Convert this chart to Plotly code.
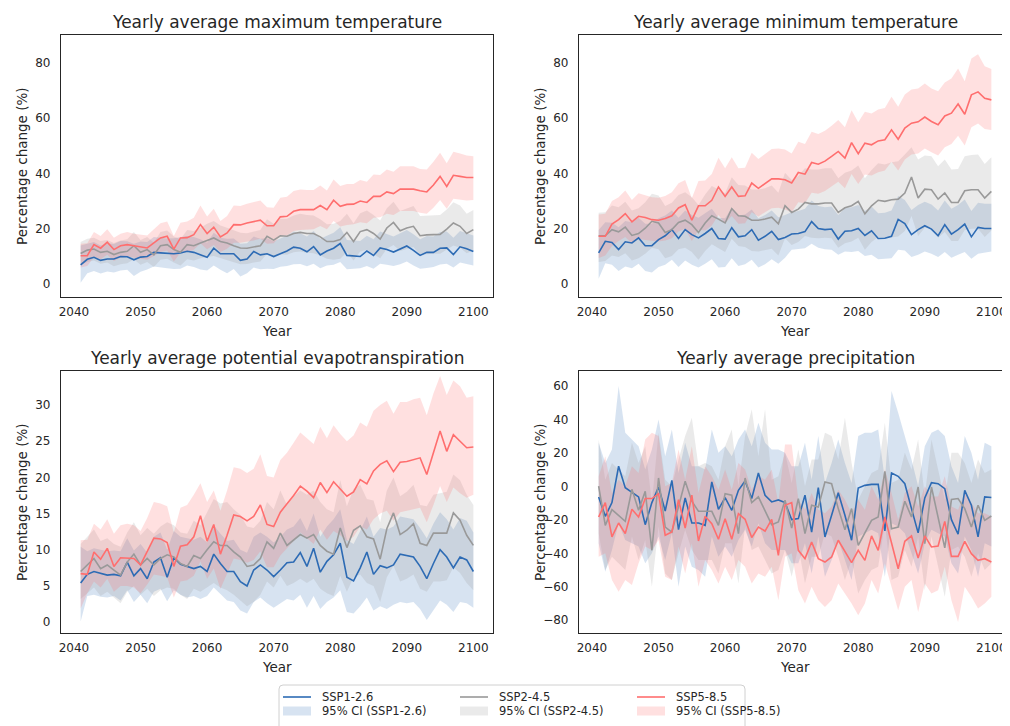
import plotly.graph_objects as go

# ---------------- data ----------------
years = list(range(2041, 2101))
x_tick_vals = [2040, 2050, 2060, 2070, 2080, 2090, 2100]
scenarios = ["SSP1-2.6", "SSP2-4.5", "SSP5-8.5"]
panel_titles = [
    "Yearly average maximum temperature",
    "Yearly average minimum temperature",
    "Yearly average potential evapotranspiration",
    "Yearly average precipitation",
]
y_tick_vals = [
    [0, 20, 40, 60, 80],
    [0, 20, 40, 60, 80],
    [0, 5, 10, 15, 20, 25, 30],
    [-80, -60, -40, -20, 0, 20, 40, 60],
]

# --- Yearly average maximum temperature ---
b1 = [7.0, 9.0, 9.7, 8.6, 9.1, 9.1, 10.0, 9.9, 8.8, 9.8,
      10.0, 11.5, 11.3, 11.1, 11.0, 11.3, 11.9, 11.5, 10.6, 9.7,
      13.0, 11.0, 11.0, 11.0, 8.6, 9.1, 11.8, 10.6, 11.0, 10.0,
      11.0, 12.0, 13.4, 13.0, 11.7, 13.6, 10.6, 12.0, 13.0, 14.7,
      10.4, 10.2, 10.0, 12.0, 10.4, 13.1, 12.5, 11.6, 12.7, 13.8,
      12.2, 10.4, 11.5, 11.5, 13.0, 13.1, 10.7, 13.5, 12.8, 11.8]
b1_lo = [0.5, 4.0, 4.8, 3.9, 4.6, 4.2, 5.0, 5.2, 3.0, 4.5,
         5.3, 6.4, 6.1, 5.8, 5.5, 5.6, 6.8, 6.2, 5.3, 5.0,
         6.8, 5.2, 4.0, 5.5, 2.8, 4.0, 6.0, 5.4, 5.6, 5.5,
         6.3, 6.6, 7.2, 7.3, 6.5, 7.4, 5.8, 6.8, 7.0, 8.0,
         5.4, 5.6, 5.8, 6.6, 5.6, 7.4, 7.0, 6.6, 7.2, 8.2,
         6.8, 5.6, 5.9, 6.2, 7.1, 7.4, 6.0, 7.8, 7.2, 6.8]
b1_hi = [14.0, 14.6, 15.2, 14.0, 14.8, 14.5, 15.6, 15.5, 14.6, 15.4,
         15.2, 17.0, 16.8, 16.5, 16.6, 17.1, 17.4, 17.0, 16.2, 15.0,
         18.6, 16.8, 16.4, 16.5, 14.6, 14.8, 17.2, 16.4, 16.6, 15.5,
         16.6, 17.5, 19.0, 18.4, 17.2, 19.2, 16.4, 17.5, 18.6, 20.6,
         16.0, 15.8, 15.6, 17.5, 16.2, 19.0, 18.2, 17.2, 18.4, 19.6,
         18.0, 16.2, 17.4, 17.2, 18.8, 19.0, 16.8, 19.2, 18.4, 17.6]
g1 = [11.1, 12.3, 12.7, 11.5, 11.9, 10.7, 11.5, 11.9, 13.9, 11.5,
      12.5, 10.6, 13.9, 14.3, 12.5, 11.5, 14.3, 13.9, 14.9, 15.9,
      16.7, 15.4, 14.9, 13.9, 13.1, 13.0, 13.5, 13.9, 17.3, 15.9,
      17.5, 17.3, 18.3, 18.7, 18.3, 18.3, 17.1, 15.4, 15.4, 16.1,
      18.7, 15.4, 19.0, 19.7, 18.3, 16.3, 20.3, 22.3, 19.3, 20.3,
      20.9, 17.5, 17.8, 17.9, 18.0, 19.9, 22.1, 20.9, 18.3, 19.7]
g1_lo = [7.0, 8.0, 8.6, 7.4, 7.8, 6.5, 7.2, 7.6, 9.0, 7.0,
         8.0, 6.2, 8.8, 9.2, 7.8, 6.8, 9.0, 8.6, 9.4, 9.8,
         10.2, 9.5, 8.6, 8.0, 7.2, 7.3, 7.8, 8.2, 11.0, 9.6,
         10.8, 10.6, 11.5, 11.8, 11.4, 11.2, 10.4, 9.2, 8.8, 9.2,
         11.6, 8.6, 11.8, 12.4, 11.0, 9.4, 12.8, 14.2, 12.0, 12.6,
         13.4, 10.6, 10.8, 11.0, 11.0, 12.4, 14.0, 13.2, 11.2, 12.2]
g1_hi = [15.2, 16.4, 16.8, 15.6, 16.0, 14.9, 15.8, 16.2, 18.8, 16.0,
         17.0, 15.0, 18.8, 19.4, 17.2, 16.2, 19.6, 19.2, 20.4, 21.8,
         22.8, 21.2, 20.4, 19.6, 18.6, 18.4, 19.0, 19.6, 23.4, 21.8,
         23.6, 23.6, 24.8, 25.4, 25.0, 24.8, 23.4, 21.6, 21.8, 22.8,
         25.4, 22.0, 25.6, 26.6, 25.0, 23.0, 27.4, 29.8, 26.4, 27.4,
         28.2, 24.6, 24.8, 24.8, 25.0, 27.0, 29.6, 28.4, 25.4, 26.8]
r1 = [10.3, 10.3, 14.3, 13.0, 15.2, 12.5, 13.9, 14.3, 13.9, 13.5,
      13.1, 14.9, 16.7, 17.3, 12.7, 16.7, 16.8, 17.9, 21.5, 18.3,
      20.6, 17.1, 18.5, 21.5, 21.4, 22.1, 22.6, 23.1, 21.1, 21.1,
      24.3, 24.5, 26.3, 26.9, 26.9, 26.9, 28.4, 26.9, 30.3, 28.1,
      28.8, 28.9, 30.0, 29.5, 31.7, 31.7, 33.3, 32.7, 34.3, 34.3,
      34.3, 33.7, 33.3, 35.8, 38.9, 35.3, 39.3, 38.9, 38.5, 38.5]
r1_lo = [6.0, 6.6, 9.8, 9.0, 10.6, 8.4, 9.6, 10.0, 9.6, 9.2,
         8.8, 10.2, 11.6, 12.2, 8.2, 11.4, 11.6, 12.4, 14.8, 12.6,
         14.2, 11.6, 12.8, 15.0, 15.0, 15.4, 15.8, 16.4, 14.6, 14.8,
         17.4, 17.6, 19.2, 19.6, 19.8, 19.8, 21.0, 19.8, 22.8, 20.8,
         21.4, 21.6, 22.4, 22.0, 24.0, 24.2, 25.4, 25.0, 26.4, 26.4,
         26.4, 25.8, 25.4, 27.6, 30.4, 27.2, 30.8, 30.6, 30.2, 30.4]
r1_hi = [14.6, 14.8, 18.8, 17.4, 19.8, 16.8, 18.2, 18.8, 18.2, 17.8,
         17.6, 19.8, 22.0, 22.6, 17.4, 22.2, 22.6, 24.0, 28.4, 24.4,
         27.2, 22.8, 24.6, 28.4, 28.2, 29.0, 29.6, 30.2, 27.8, 27.6,
         31.2, 31.6, 33.6, 34.2, 34.0, 34.0, 35.6, 33.8, 37.8, 35.4,
         36.2, 36.2, 37.6, 37.0, 39.6, 39.4, 41.4, 40.6, 42.6, 42.6,
         42.6, 41.6, 41.4, 44.2, 47.4, 43.6, 47.8, 47.2, 46.4, 46.2]

# --- Yearly average minimum temperature ---
b2 = [11.3, 15.5, 15.1, 12.5, 15.3, 14.9, 16.7, 13.9, 13.9, 16.1,
      17.5, 19.7, 16.5, 19.7, 17.9, 16.7, 18.3, 20.1, 16.5, 16.3,
      20.4, 17.1, 17.5, 19.7, 15.9, 17.3, 19.1, 16.1, 16.9, 18.1,
      18.3, 19.0, 22.6, 20.1, 19.7, 19.9, 16.3, 19.1, 19.3, 20.1,
      17.6, 19.3, 16.5, 16.6, 17.3, 23.4, 21.9, 17.9, 19.7, 21.1,
      19.9, 17.5, 21.5, 18.1, 19.7, 21.7, 17.1, 20.5, 20.1, 20.1]
b2_lo = [2.0, 7.6, 7.0, 4.8, 6.4, 5.8, 7.4, 4.8, 4.2, 6.2,
         7.0, 8.8, 6.2, 8.6, 7.0, 6.0, 7.4, 9.0, 6.0, 6.2,
         9.4, 6.6, 7.2, 8.8, 6.0, 7.2, 9.0, 7.4, 9.6, 12.4,
         12.8, 13.0, 14.6, 13.2, 12.6, 12.4, 10.6, 11.8, 11.6, 12.0,
         10.2, 10.6, 9.0, 9.2, 9.4, 12.4, 12.2, 9.8, 10.6, 11.8,
         11.0, 9.8, 11.6, 9.6, 10.6, 11.6, 9.2, 11.0, 11.4, 11.8]
b2_hi = [19.6, 22.4, 22.2, 20.6, 22.8, 22.4, 24.0, 21.8, 21.8, 23.8,
         24.8, 26.6, 24.0, 26.6, 25.0, 24.0, 25.6, 27.2, 24.0, 23.8,
         27.6, 24.8, 25.2, 27.0, 23.8, 25.0, 26.6, 24.2, 25.0, 26.0,
         26.4, 27.2, 30.2, 28.2, 27.8, 28.0, 25.0, 27.6, 27.8, 28.6,
         26.4, 28.0, 25.6, 25.8, 26.6, 31.8, 30.4, 26.8, 28.6, 29.8,
         28.8, 26.6, 30.2, 27.2, 28.6, 30.6, 26.4, 29.4, 29.0, 29.0]
g2 = [17.5, 17.5, 19.7, 18.9, 20.6, 17.6, 18.3, 20.2, 22.7, 22.1,
      18.7, 19.7, 22.3, 23.1, 21.5, 18.7, 22.1, 24.7, 23.5, 22.1,
      27.3, 24.7, 24.5, 23.1, 23.1, 23.5, 24.2, 21.8, 28.3, 25.9,
      27.1, 29.5, 29.0, 29.0, 29.3, 29.3, 25.9, 27.6, 28.3, 29.9,
      25.4, 28.3, 30.3, 29.9, 30.5, 30.7, 32.9, 38.7, 31.1, 34.3,
      34.1, 30.7, 32.9, 29.5, 29.5, 33.7, 34.1, 34.1, 31.1, 33.5]
g2_lo = [8.0, 8.4, 10.4, 9.8, 11.2, 8.6, 9.4, 11.0, 13.2, 12.6,
         9.4, 10.2, 12.6, 13.2, 11.6, 8.8, 12.0, 14.4, 13.0, 11.6,
         16.4, 13.8, 13.4, 12.0, 11.8, 12.2, 12.8, 10.4, 16.6, 14.2,
         15.2, 17.4, 16.8, 16.6, 16.8, 16.6, 13.2, 14.8, 15.4, 16.8,
         12.4, 15.2, 17.0, 16.6, 17.0, 17.2, 19.2, 24.6, 17.4, 20.4,
         20.0, 16.8, 18.8, 15.6, 15.6, 19.6, 20.0, 20.0, 17.0, 19.4]
g2_hi = [25.8, 26.0, 28.4, 27.8, 29.8, 26.6, 27.4, 29.6, 32.6, 32.0,
         28.2, 29.4, 32.2, 33.2, 31.4, 28.6, 32.4, 35.4, 34.2, 32.8,
         38.6, 35.8, 35.6, 34.2, 34.2, 34.6, 35.6, 33.0, 40.2, 37.6,
         39.0, 41.8, 41.4, 41.4, 41.8, 41.8, 38.2, 40.2, 41.0, 42.8,
         38.2, 41.2, 43.6, 43.2, 44.0, 44.4, 46.8, 49.4, 45.0, 46.4,
         46.2, 42.6, 45.0, 41.4, 41.6, 46.2, 46.6, 46.8, 43.4, 45.8]
r2 = [17.3, 17.3, 21.7, 23.3, 25.5, 22.5, 24.5, 24.1, 23.3, 23.1,
      23.7, 24.7, 27.5, 28.7, 23.1, 28.3, 28.3, 30.3, 35.1, 31.7,
      35.1, 31.7, 31.9, 36.5, 34.6, 36.3, 38.0, 38.0, 37.7, 36.5,
      40.3, 39.7, 43.9, 43.3, 44.4, 46.1, 47.9, 45.5, 51.1, 47.1,
      50.9, 50.3, 51.7, 52.1, 55.7, 52.3, 56.3, 58.1, 58.6, 60.3,
      58.7, 57.5, 60.7, 61.7, 65.0, 61.3, 68.3, 69.4, 67.1, 66.5]
r2_lo = [9.5, 10.4, 13.8, 15.6, 17.0, 14.8, 16.4, 16.0, 15.6, 15.4,
         15.8, 16.6, 19.0, 20.0, 15.6, 19.6, 19.4, 21.2, 25.0, 22.0,
         24.6, 21.8, 22.0, 26.0, 24.4, 26.0, 27.4, 27.6, 27.0, 26.0,
         29.6, 29.2, 33.0, 32.6, 33.6, 35.4, 37.0, 34.6, 39.8, 36.2,
         39.6, 39.2, 40.4, 41.0, 44.2, 41.0, 45.0, 46.8, 47.2, 49.0,
         47.6, 46.4, 49.4, 50.6, 53.6, 50.0, 56.6, 58.0, 56.0, 55.6]
r2_hi = [25.2, 25.4, 30.0, 31.4, 33.8, 30.4, 32.8, 32.2, 31.4, 31.2,
         31.8, 33.2, 36.4, 37.6, 31.0, 37.2, 37.4, 39.8, 45.6, 41.8,
         45.8, 41.8, 42.0, 47.4, 45.2, 47.0, 48.8, 49.0, 48.6, 47.2,
         51.4, 50.6, 55.0, 54.2, 55.4, 57.2, 59.2, 56.6, 62.8, 58.4,
         62.2, 61.6, 63.0, 63.6, 67.6, 64.0, 68.4, 70.2, 70.6, 72.4,
         70.6, 69.6, 72.8, 74.2, 77.8, 73.2, 81.4, 83.0, 78.6, 77.6]

# --- Yearly average potential evapotranspiration ---
b3 = [5.4, 6.6, 7.0, 6.7, 6.5, 6.6, 6.4, 8.3, 6.4, 7.4,
      6.0, 8.3, 8.9, 6.2, 8.9, 8.0, 7.7, 7.4, 7.7, 7.0,
      9.4, 8.1, 7.0, 7.0, 5.6, 5.0, 7.2, 7.9, 7.2, 6.3,
      7.2, 8.2, 8.3, 9.6, 7.7, 10.2, 6.9, 8.4, 9.3, 10.9,
      6.2, 5.7, 7.5, 9.7, 6.6, 7.8, 7.5, 7.9, 9.4, 9.2,
      9.0, 7.7, 6.0, 8.1, 10.0, 9.0, 7.5, 9.0, 8.6, 7.0]
b3_lo = [0.1, 3.6, 3.8, 3.5, 3.4, 3.6, 3.0, 4.4, 2.8, 3.8,
         2.6, 4.2, 4.6, 2.9, 4.4, 3.8, 3.4, 3.6, 3.2, 3.6,
         4.8, 3.9, 3.0, 2.8, 1.6, 1.2, 2.8, 3.4, 2.6, 2.0,
         2.6, 3.2, 3.0, 3.8, 2.0, 3.6, 1.8, 2.8, 3.4, 4.4,
         1.4, 1.2, 2.2, 3.4, 1.6, 2.2, 1.8, 2.4, 2.8, 2.6,
         2.8, 1.8, 0.3, 1.6, 3.0, 2.4, 1.4, 2.8, 2.6, 2.0]
b3_hi = [10.4, 9.8, 10.2, 10.0, 9.8, 9.9, 9.8, 11.6, 9.9, 10.8,
         9.6, 11.8, 12.4, 10.0, 12.6, 11.8, 11.6, 11.4, 11.8, 11.0,
         13.4, 12.2, 11.2, 11.4, 10.0, 9.6, 11.8, 12.4, 11.8, 11.0,
         11.8, 12.8, 13.2, 14.4, 12.6, 15.0, 11.8, 13.2, 14.2, 15.6,
         11.4, 10.8, 12.6, 14.6, 11.8, 13.0, 12.8, 13.2, 14.6, 14.4,
         14.2, 13.0, 11.6, 13.6, 15.2, 14.2, 12.8, 14.4, 14.0, 12.4]
g3 = [7.0, 7.9, 8.8, 7.4, 7.9, 7.2, 6.5, 8.3, 9.4, 7.9,
      8.8, 7.9, 8.8, 9.3, 9.0, 8.1, 7.7, 9.2, 8.8, 10.0,
      11.1, 10.6, 10.6, 9.7, 9.0, 7.7, 7.9, 8.8, 11.1, 10.2,
      12.3, 10.6, 11.4, 12.1, 11.6, 12.1, 10.6, 9.8, 9.4, 13.0,
      10.3, 12.7, 13.3, 11.8, 11.5, 8.7, 12.9, 15.1, 12.1, 12.7,
      13.6, 10.9, 10.6, 12.3, 12.3, 12.3, 15.1, 14.1, 12.0, 10.6]
g3_lo = [3.2, 4.0, 4.8, 3.6, 4.2, 3.4, 2.6, 4.2, 5.0, 3.8,
         4.6, 3.6, 4.4, 4.8, 4.6, 3.8, 3.2, 4.6, 4.2, 4.8,
         5.4, 4.8, 4.4, 3.8, 3.0, 2.2, 2.8, 3.8, 5.6, 4.8,
         6.4, 5.0, 5.4, 6.0, 5.4, 6.0, 4.6, 4.0, 3.6, 6.4,
         4.2, 6.2, 6.6, 5.4, 5.0, 2.8, 6.2, 7.8, 5.6, 6.0,
         6.6, 4.6, 4.2, 5.6, 5.6, 5.8, 7.6, 6.8, 5.4, 4.4]
g3_hi = [10.8, 11.8, 12.8, 11.2, 11.6, 10.8, 10.4, 12.4, 13.8, 12.0,
         13.0, 12.2, 13.2, 13.8, 13.4, 12.4, 12.2, 14.0, 13.4, 15.2,
         17.0, 16.4, 16.6, 15.6, 14.8, 13.2, 13.0, 14.0, 16.6, 15.6,
         18.2, 16.2, 17.4, 18.2, 17.6, 18.2, 16.6, 15.6, 15.2, 19.6,
         16.0, 18.4, 19.0, 17.0, 16.8, 13.8, 18.2, 20.0, 17.4, 18.0,
         19.0, 16.2, 16.0, 17.6, 17.8, 18.0, 20.4, 19.6, 17.6, 16.2]
r3 = [6.7, 6.6, 9.7, 8.7, 10.2, 7.7, 8.9, 8.9, 8.8, 7.9,
      9.7, 11.6, 11.5, 11.0, 7.7, 10.5, 10.7, 11.8, 14.7, 11.2,
      13.5, 9.4, 12.0, 14.8, 14.6, 14.0, 14.6, 16.2, 13.5, 13.2,
      15.2, 16.3, 17.5, 18.8, 18.1, 17.2, 19.3, 17.9, 19.4, 18.4,
      17.4, 18.0, 19.7, 19.1, 20.9, 21.8, 22.3, 20.8, 22.1, 22.2,
      22.5, 22.7, 20.4, 23.3, 26.4, 23.6, 25.9, 25.0, 24.1, 24.2]
r3_lo = [1.9, 4.0, 5.6, 4.8, 6.0, 4.2, 5.0, 5.0, 4.8, 4.0,
         5.2, 6.6, 6.4, 6.2, 3.4, 5.6, 5.8, 6.4, 8.4, 6.0,
         7.4, 4.6, 6.6, 8.8, 8.6, 8.2, 8.6, 9.8, 7.6, 7.6,
         9.2, 10.2, 11.2, 12.4, 11.6, 10.8, 12.8, 11.4, 12.6, 12.0,
         11.2, 11.8, 13.2, 12.8, 14.2, 15.0, 15.4, 14.0, 15.2, 15.4,
         15.6, 15.8, 13.8, 16.2, 18.8, 16.6, 18.6, 17.8, 17.2, 17.6]
r3_hi = [11.3, 11.4, 13.6, 12.8, 14.2, 12.2, 13.4, 13.6, 13.4, 12.6,
         14.4, 16.6, 16.4, 16.0, 12.4, 15.8, 16.2, 17.6, 19.2, 16.6,
         18.2, 15.4, 18.2, 21.4, 21.2, 20.6, 21.2, 23.2, 20.2, 20.0,
         22.4, 23.4, 24.8, 26.2, 25.4, 24.6, 27.0, 25.4, 27.2, 26.0,
         25.0, 25.8, 27.6, 27.0, 29.2, 30.0, 30.6, 28.8, 30.4, 30.4,
         30.8, 31.0, 28.6, 31.6, 34.0, 31.4, 33.4, 32.6, 31.0, 31.2]

# --- Yearly average precipitation ---
b4 = [-6.3, -17.9, -9.7, 12.0, -0.8, -3.4, -6.3, -22.9, -9.7, -0.4,
      -14.7, 3.6, -25.9, -6.9, -21.9, -21.9, -23.3, 2.6, -13.7, -6.7,
      -14.3, -2.4, 3.2, -7.3, 8.0, -5.3, -9.3, -8.1, -9.7, -19.9,
      -19.3, -5.3, -27.3, -0.8, -30.2, -17.3, -3.8, -17.3, -32.2, -1.0,
      0.6, 1.2, 1.2, -26.6, 8.0, 6.0, 1.6, -13.3, -27.8, -6.9,
      2.2, 1.6, -1.4, -19.9, -28.6, -2.4, -11.3, -30.2, -6.3, -6.7]
b4_lo = [-34, -51, -38, -22, -32, -34, -36, -46, -40, -30,
         -44, -28, -60, -36, -48, -50, -54, -30, -42, -36,
         -42, -32, -26, -36, -22, -34, -38, -38, -38, -46,
         -46, -34, -52, -30, -54, -44, -32, -44, -56, -30,
         -28, -26, -28, -54, -22, -24, -28, -40, -52, -34,
         -26, -28, -30, -46, -52, -30, -38, -54, -34, -36]
b4_hi = [26, 14, 22, 60, 32, 28, 24, 10, 22, 40,
         18, 34, 8, 26, 12, 12, 10, 34, 20, 24,
         18, 28, 34, 24, 38, 26, 22, 22, 20, 12,
         12, 26, 4, 30, 2, 14, 28, 14, 2, 30,
         32, 32, 34, 4, 57, 44, 30, 16, 0, 24,
         32, 34, 30, 12, 2, 30, 20, 4, 26, 24]
g4 = [0.2, -23.3, -13.9, -17.3, -20.9, -1.8, -14.3, -3.0, -38.2, 5.0,
      -24.3, -27.3, -11.3, 3.0, -8.9, -14.9, -14.9, -14.9, -23.3, -4.4,
      -5.3, -28.2, 5.0, -9.7, -6.3, -14.9, -22.9, -21.3, -8.3, -24.9,
      -7.3, -28.2, -11.3, -12.3, 2.6, 1.6, -13.3, -25.9, -13.3, -35.2,
      -27.3, -20.3, -18.3, 9.0, -25.3, -24.3, -8.9, -18.3, -0.4, -34.2,
      -0.4, -18.3, -36.8, -7.9, -7.3, -13.3, -24.3, -11.3, -20.3, -17.7]
g4_lo = [-28, -50, -42, -46, -50, -30, -44, -32, -60, -24,
         -52, -56, -40, -26, -38, -44, -44, -44, -52, -34,
         -34, -58, -24, -38, -36, -44, -52, -50, -38, -54,
         -36, -58, -42, -42, -28, -30, -42, -56, -44, -64,
         -56, -50, -48, -22, -56, -54, -38, -48, -30, -62,
         -30, -48, -66, -38, -36, -42, -54, -40, -50, -46]
g4_hi = [28, 4, 14, 10, 6, 26, 14, 24, -10, 32,
         4, 0, 16, 30, 41, 12, 14, 12, 4, 24,
         34, 0, 30, 46, 18, 46, 4, 6, 20, 2,
         22, 0, 16, 16, 32, 30, 16, 41, 14, -8,
         0, 8, 10, 38, 2, 4, 20, 10, 28, -6,
         28, 10, -8, 20, 20, 14, 2, 16, 8, 10]
r4 = [-18.3, -9.7, -30.2, -21.9, -28.2, -13.7, -18.3, -7.3, -7.3, -4.4,
      -29.2, -27.3, -7.9, -24.9, -5.3, -32.6, -17.9, -22.3, -31.6, -19.3,
      -31.6, -16.3, -19.7, -30.6, -24.3, -26.7, -19.7, -41.2, -11.3, -9.7,
      -38.2, -43.2, -33.2, -43.2, -45.2, -42.2, -32.2, -38.6, -45.6, -38.2,
      -44.2, -29.6, -38.2, -18.3, -33.2, -49.2, -32.8, -29.6, -42.8, -29.6,
      -36.2, -35.6, -20.9, -41.8, -41.8, -32.8, -40.2, -44.2, -43.2, -45.2]
r4_lo = [-42, -40, -56, -63, -56, -59, -46, -36, -38, -32,
         -54, -56, -36, -52, -34, -60, -44, -50, -58, -48,
         -56, -44, -48, -58, -52, -54, -48, -68, -42, -40,
         -62, -70, -60, -68, -72, -68, -58, -64, -70, -77,
         -70, -56, -64, -46, -60, -74, -60, -56, -75, -58,
         -64, -62, -48, -68, -81, -60, -66, -73, -70, -66]
r4_hi = [6, 18, -4, 4, 0, 12, 8, 28, 32, 30,
         0, 2, 22, 4, 24, -4, 12, 6, -2, 10,
         -2, 14, 10, -2, 6, 4, 10, -10, 25, 25,
         -8, -14, -4, -14, -16, -12, -2, -8, -16, -8,
         -14, 0, -8, 10, -4, -20, -4, 0, -12, 0,
         -6, -6, 6, -12, -14, -4, -10, -16, -16, -18]

panels = [
    [(b1, b1_lo, b1_hi), (g1, g1_lo, g1_hi), (r1, r1_lo, r1_hi)],
    [(b2, b2_lo, b2_hi), (g2, g2_lo, g2_hi), (r2, r2_lo, r2_hi)],
    [(b3, b3_lo, b3_hi), (g3, g3_lo, g3_hi), (r3, r3_lo, r3_hi)],
    [(b4, b4_lo, b4_hi), (g4, g4_lo, g4_hi), (r4, r4_lo, r4_hi)],
]
for p in panels:
    for trio in p:
        for arr in trio:
            assert len(arr) == len(years), len(arr)

# ---------------- styling ----------------
W, H = 1010, 726
OFF = 8  # the page places the figure 8 px in from the window's top-left corner
FONT = "DejaVu Sans"
INK = "#262626"
LINE_COL = ["#2d6bb4", "#999999", "#ff6e6e"]
FILL_COL = ["rgba(45,107,180,0.19)", "rgba(150,150,150,0.20)", "rgba(255,110,110,0.21)"]

# axes boxes in window pixels: (left, right, top, bottom)
BOX = [(61, 493, 35, 297), (579, 1011, 35, 297), (61, 493, 371, 633), (579, 1011, 371, 633)]
XR = [2038.05, 2102.95]
YR = [[-4.6, 89.9], [-4.6, 89.9], [-1.5, 34.7], [-87.6, 68.9]]


def fx(px):
    return (px - OFF) / W


def fy(py):
    return 1 - (py - OFF) / H


def fmt(v):
    return str(v).replace("-", "\u2212")


fig = go.Figure()
layout = dict(
    template="none",
    width=W, height=H,
    margin=dict(l=0, r=0, t=0, b=0, pad=0, autoexpand=False),
    paper_bgcolor="white", plot_bgcolor="white",
    showlegend=False,
    font=dict(family=FONT, color=INK),
)
annotations = []
shapes = []

for k in range(4):
    sfx = "" if k == 0 else str(k + 1)
    x0, x1, y0, y1 = BOX[k]
    cx = (x0 + x1) / 2
    for s in range(3):
        mid, lo, hi = panels[k][s]
        fig.add_trace(go.Scatter(
            x=years + years[::-1], y=hi + lo[::-1],
            fill="toself", fillcolor=FILL_COL[s], mode="lines",
            line=dict(width=0, color=FILL_COL[s]), hoverinfo="skip",
            name="95% CI (" + scenarios[s] + ")",
            xaxis="x" + sfx, yaxis="y" + sfx,
        ))
    for s in range(3):
        mid, lo, hi = panels[k][s]
        fig.add_trace(go.Scatter(
            x=years, y=mid, mode="lines",
            line=dict(color=LINE_COL[s], width=1.6),
            name=scenarios[s],
            xaxis="x" + sfx, yaxis="y" + sfx,
        ))
    layout["xaxis" + sfx] = dict(
        domain=[fx(x0), fx(x1)], range=XR, anchor="y" + sfx, automargin=False,
        showline=True, mirror=True, linecolor=INK, linewidth=1.25,
        showgrid=False, zeroline=False, ticks="",
        tickmode="array", tickvals=x_tick_vals, ticktext=[str(v) for v in x_tick_vals],
        tickfont=dict(family=FONT, size=12, color=INK), ticklabelstandoff=3,
    )
    layout["yaxis" + sfx] = dict(
        domain=[fy(y1), fy(y0)], range=YR[k], anchor="x" + sfx, automargin=False,
        showline=True, mirror=True, linecolor=INK, linewidth=1.25,
        showgrid=False, zeroline=False, ticks="",
        tickmode="array", tickvals=y_tick_vals[k], ticktext=[fmt(v) for v in y_tick_vals[k]],
        tickfont=dict(family=FONT, size=12, color=INK), ticklabelstandoff=7,
    )
    annotations.append(dict(
        x=fx(cx), y=fy(y0 - 13), xref="paper", yref="paper",
        text=panel_titles[k], showarrow=False, xanchor="center", yanchor="middle",
        font=dict(family=FONT, size=17, color=INK),
    ))
    annotations.append(dict(
        x=fx(cx), y=fy(y1 + 34), xref="paper", yref="paper",
        text="Year", showarrow=False, xanchor="center", yanchor="middle",
        font=dict(family=FONT, size=13.5, color=INK),
    ))
    annotations.append(dict(
        x=fx(x0 - 39), y=fy((y0 + y1) / 2), xref="paper", yref="paper",
        text="Percentage change (%)", showarrow=False, textangle=-90,
        xanchor="center", yanchor="middle",
        font=dict(family=FONT, size=13.5, color=INK),
    ))

# ---------------- legend (drawn below the panels) ----------------
LX0, LX1, LY0, LY1 = 279, 745, 685, 740
r = 4
shapes.append(dict(
    type="path", xref="paper", yref="paper",
    path=(f"M {fx(LX0 + r)},{fy(LY0)} L {fx(LX1 - r)},{fy(LY0)} "
          f"Q {fx(LX1)},{fy(LY0)} {fx(LX1)},{fy(LY0 + r)} L {fx(LX1)},{fy(LY1)} "
          f"L {fx(LX0)},{fy(LY1)} L {fx(LX0)},{fy(LY0 + r)} "
          f"Q {fx(LX0)},{fy(LY0)} {fx(LX0 + r)},{fy(LY0)} Z"),
    line=dict(color="#d0d0d0", width=1), fillcolor="rgba(255,255,255,0.8)", layer="above",
))
col_x = [283, 460, 637]
row1_y, row2_y = 697, 711
for s in range(3):
    lx = col_x[s]
    shapes.append(dict(type="line", xref="paper", yref="paper",
                       x0=fx(lx), x1=fx(lx + 28), y0=fy(row1_y), y1=fy(row1_y),
                       line=dict(color=LINE_COL[s], width=1.6), layer="above"))
    shapes.append(dict(type="rect", xref="paper", yref="paper",
                       x0=fx(lx), x1=fx(lx + 28), y0=fy(row2_y + 4.5), y1=fy(row2_y - 4.5),
                       fillcolor=FILL_COL[s], line=dict(width=0), layer="above"))
    annotations.append(dict(x=fx(lx + 37), y=fy(row1_y), xref="paper", yref="paper",
                            text=scenarios[s], showarrow=False, xanchor="left", yanchor="middle",
                            font=dict(family=FONT, size=11.5, color=INK)))
    annotations.append(dict(x=fx(lx + 37), y=fy(row2_y), xref="paper", yref="paper",
                            text="95% CI (" + scenarios[s] + ")", showarrow=False,
                            xanchor="left", yanchor="middle",
                            font=dict(family=FONT, size=11.5, color=INK)))

layout["annotations"] = annotations
layout["shapes"] = shapes
fig.update_layout(**layout)
fig.write_html("out.html")
